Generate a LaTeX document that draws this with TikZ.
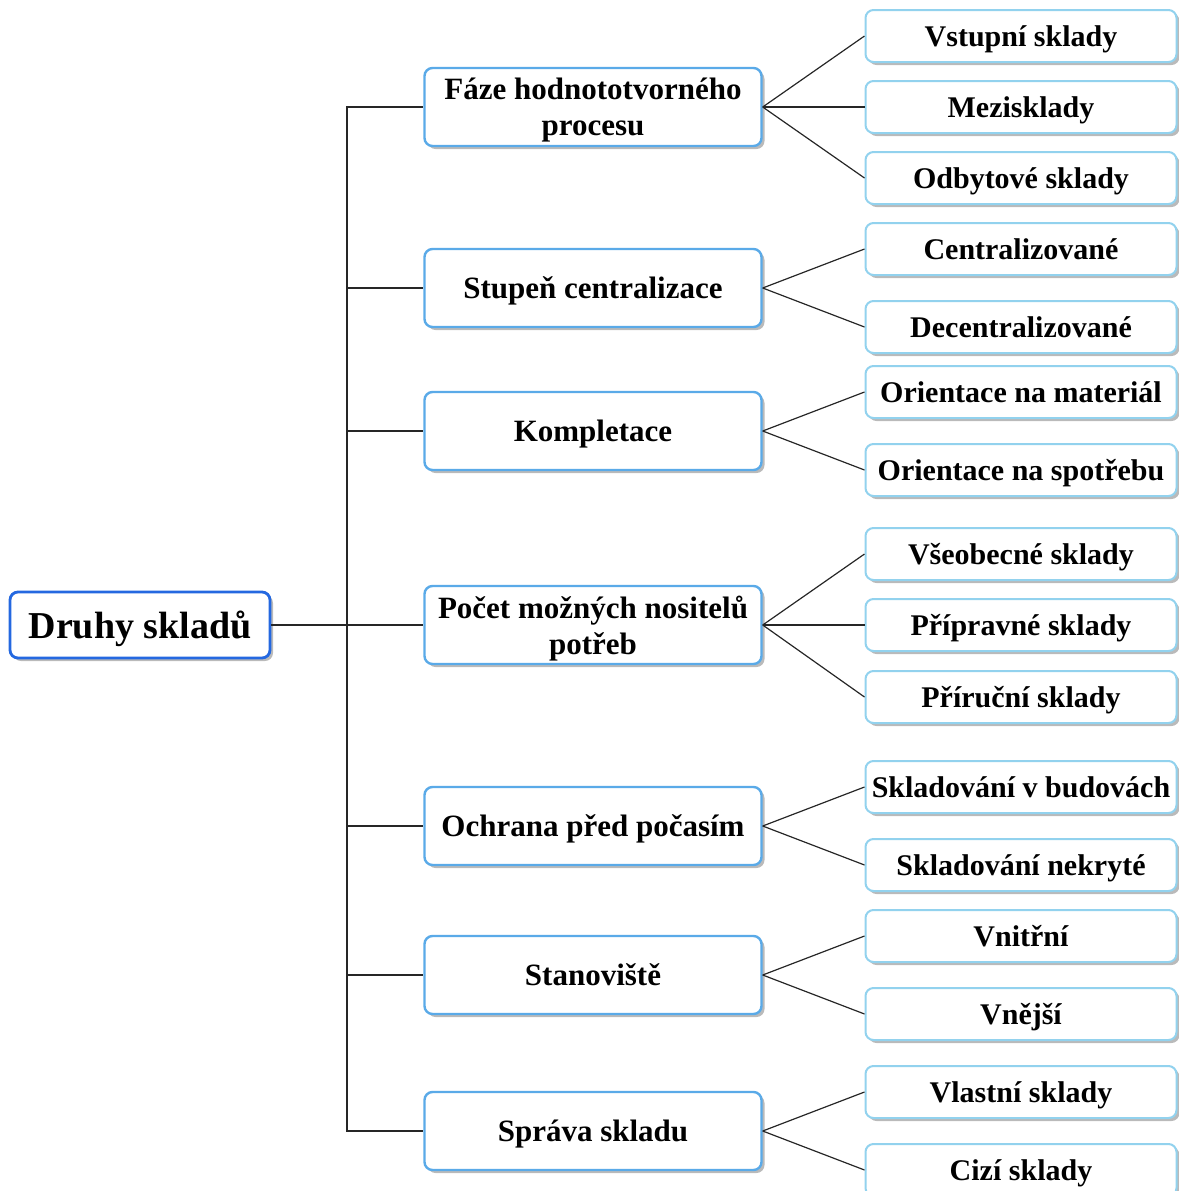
\documentclass[tikz,border=0pt]{standalone}
\usepackage{fontspec}
\setmainfont{Liberation Serif}
\usetikzlibrary{shadows}

\begin{document}
\begin{tikzpicture}[
		x=0.5pt, y=-0.5pt,
		box/.style={
			rectangle, rounded corners=4pt, draw=#1, fill=white, line width=1.2pt,
			drop shadow={shadow xshift=1.5pt, shadow yshift=-1.5pt, opacity=0.45, fill=black!60},
			align=center, inner sep=2pt, text depth=0pt
		},
		rootbox/.style={
			box=rootcol, line width=1.4pt, minimum width=130pt, minimum height=33pt,
			font=\fontsize{19}{22}\selectfont\bfseries
		},
		groupbox/.style={
			box=groupcol, minimum width=168.5pt, minimum height=39pt,
			font=\fontsize{15.5}{18}\selectfont\bfseries
		},
		leafbox/.style={
			box=leafcol, line width=1pt, minimum width=155.5pt, minimum height=26pt,
			font=\fontsize{15}{18}\selectfont\bfseries
		},
		link/.style={draw=black!85, line width=0.6pt}
		]
		
		\definecolor{rootcol}{HTML}{2468E0}
		\definecolor{groupcol}{HTML}{5AAAE8}
		\definecolor{leafcol}{HTML}{92D2EE}
		
		\useasboundingbox (0,0) rectangle (1179,1191);
		
		\node[rootbox] (root) at (140, 625) {Druhy skladů};
		
		\node[groupbox] (faze)   at (593, 107)  {Fáze hodnototvorného\\procesu};
		\node[groupbox] (stupen) at (593, 288)  {Stupeň centralizace};
		\node[groupbox] (komp)   at (593, 431)  {Kompletace};
		\node[groupbox] (pocet)  at (593, 625)  {Počet možných nositelů\\potřeb};
		\node[groupbox] (ochr)   at (593, 826)  {Ochrana před počasím};
		\node[groupbox] (stan)   at (593, 975)  {Stanoviště};
		\node[groupbox] (sprava) at (593, 1131) {Správa skladu};
		
		\node[leafbox] (vstup)  at (1021, 36)   {Vstupní sklady};
		\node[leafbox] (mezi)   at (1021, 107)  {Mezisklady};
		\node[leafbox] (odbyt)  at (1021, 178)  {Odbytové sklady};
		\node[leafbox] (centr)  at (1021, 249)  {Centralizované};
		\node[leafbox] (decen)  at (1021, 327)  {Decentralizované};
		\node[leafbox] (mater)  at (1021, 392)  {Orientace na materiál};
		\node[leafbox] (spotr)  at (1021, 470)  {Orientace na spotřebu};
		\node[leafbox] (vseob)  at (1021, 554)  {Všeobecné sklady};
		\node[leafbox] (pripr)  at (1021, 625)  {Přípravné sklady};
		\node[leafbox] (priruc) at (1021, 697)  {Příruční sklady};
		\node[leafbox] (budov)  at (1021, 787)  {Skladování v budovách};
		\node[leafbox] (nekr)   at (1021, 865)  {Skladování nekryté};
		\node[leafbox] (vnitr)  at (1021, 936)  {Vnitřní};
		\node[leafbox] (vnej)   at (1021, 1014) {Vnější};
		\node[leafbox] (vlast)  at (1021, 1092) {Vlastní sklady};
		\node[leafbox] (cizi)   at (1021, 1170) {Cizí sklady};
		
		% trunk
		\coordinate (split) at (347, 625);
		\draw[link] (root.east) -- (split);
		\foreach \g in {faze, stupen, komp, pocet, ochr, stan, sprava}
			\draw[link] (split) |- (\g.west);
		
		% leaves
		\foreach \g/\l in {faze/vstup, faze/mezi, faze/odbyt, stupen/centr, stupen/decen,
				komp/mater, komp/spotr, pocet/vseob, pocet/pripr, pocet/priruc,
				ochr/budov, ochr/nekr, stan/vnitr, stan/vnej, sprava/vlast, sprava/cizi}
			\draw[link] (\g.east) -- (\l.west);
		
	\end{tikzpicture}
\end{document}
